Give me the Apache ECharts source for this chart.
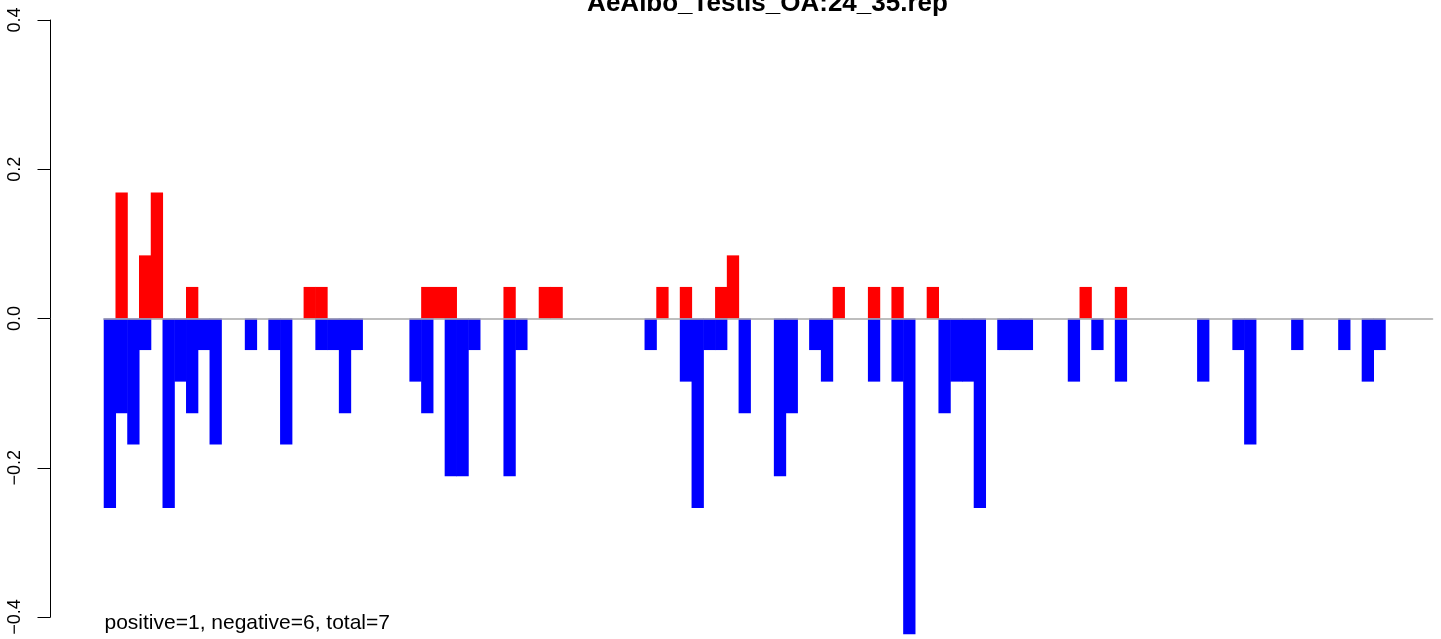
<!DOCTYPE html>
<html><head><meta charset="utf-8">
<script src="https://cdn.jsdelivr.net/npm/echarts@6/dist/echarts.min.js"></script>
<style>html,body{margin:0;padding:0;background:#fff}#c{width:1441px;height:639px}</style>
</head><body><div id="c"></div>
<script>
const titleText = 'AeAlbo_Testis_OA:24_35.rep';
const footText = 'positive=1, negative=6, total=7';
const yTicks = [-0.4, -0.2, 0, 0.2, 0.4];

const positive = [
  0, 0.169, 0, 0.0846, 0.169, 0, 0, 0.0423, 0, 0,
  0, 0, 0, 0, 0, 0, 0, 0.0423, 0.0423, 0,
  0, 0, 0, 0, 0, 0, 0, 0.0423, 0.0423, 0.0423,
  0, 0, 0, 0, 0.0423, 0, 0, 0.0423, 0.0423, 0,
  0, 0, 0, 0, 0, 0, 0, 0.0423, 0, 0.0423,
  0, 0, 0.0423, 0.0846, 0, 0, 0, 0, 0, 0,
  0, 0, 0.0423, 0, 0, 0.0423, 0, 0.0423, 0, 0,
  0.0423, 0, 0, 0, 0, 0, 0, 0, 0, 0,
  0, 0, 0, 0.0423, 0, 0, 0.0423, 0, 0, 0,
  0, 0, 0, 0, 0, 0, 0, 0, 0, 0,
  0, 0, 0, 0, 0, 0, 0, 0, 0, 0,
  0, 0, 0
];

const negative = [
  -0.254, -0.127, -0.169, -0.0423, 0, -0.254, -0.0846, -0.127, -0.0423, -0.169,
  0, 0, -0.0423, 0, -0.0423, -0.169, 0, 0, -0.0423, -0.0423,
  -0.127, -0.0423, 0, 0, 0, 0, -0.0846, -0.127, 0, -0.2115,
  -0.2115, -0.0423, 0, 0, -0.2115, -0.0423, 0, 0, 0, 0,
  0, 0, 0, 0, 0, 0, -0.0423, 0, 0, -0.0846,
  -0.254, -0.0423, -0.0423, 0, -0.127, 0, 0, -0.2115, -0.127, 0,
  -0.0423, -0.0846, 0, 0, 0, -0.0846, 0, -0.0846, -0.423, 0,
  0, -0.127, -0.0846, -0.0846, -0.254, 0, -0.0423, -0.0423, -0.0423, 0,
  0, 0, -0.0846, 0, -0.0423, 0, -0.0846, 0, 0, 0,
  0, 0, 0, -0.0846, 0, 0, -0.0423, -0.169, 0, 0,
  0, -0.0423, 0, 0, 0, -0.0423, 0, -0.0846, -0.0423, 0,
  0, 0, 0
];

const bins = positive.map((_, i) => String(i + 1));

const FONT = '"Liberation Sans", Arial, Helvetica, sans-serif';
const chart = echarts.init(document.getElementById('c'), null, {renderer: 'canvas'});
chart.setOption({
  animation: false,
  backgroundColor: '#ffffff',
  textStyle: {fontFamily: FONT},
  grid: {left: 104, right: 8.5, top: 20, bottom: 22, containLabel: false},
  xAxis: {
    type: 'category', data: bins, z: 10,
    axisLine: {onZero: true, lineStyle: {color: '#a9a9a9', width: 1.6}},
    axisTick: {show: false}, axisLabel: {show: false}, splitLine: {show: false}
  },
  yAxis: {
    type: 'value', min: yTicks[0], max: yTicks[yTicks.length - 1], interval: 0.2,
    offset: 53.5,
    axisLine: {show: true, lineStyle: {color: '#000', width: 1}},
    axisTick: {show: true, length: 13, lineStyle: {color: '#000', width: 1}},
    splitLine: {show: false},
    axisLabel: {
      rotate: 90, margin: 26, fontSize: 18, color: '#000', fontFamily: FONT,
      formatter: v => v.toFixed(1).replace('-', '\u2212')
    }
  },
  series: [
    {type: 'bar', data: positive, clip: false, z: 2, barWidth: 12.3, barGap: '-100%',
      itemStyle: {color: '#ff0000'}},
    {type: 'bar', data: negative, clip: false, z: 2, barWidth: 12.3, barGap: '-100%',
      itemStyle: {color: '#0000ff'}}
  ],
  graphic: [
    {type: 'text', x: 767.5, y: 4, z: 20, style: {text: titleText, fill: '#000', font: 'bold 26px ' + FONT,
      textAlign: 'center', align: 'center', textVerticalAlign: 'middle', verticalAlign: 'middle'}},
    {type: 'text', x: 104.5, y: 623.5, z: 20, style: {text: footText, fill: '#000', font: '21px ' + FONT,
      textAlign: 'left', align: 'left', textVerticalAlign: 'middle', verticalAlign: 'middle'}}
  ]
});
</script>
</body></html>
